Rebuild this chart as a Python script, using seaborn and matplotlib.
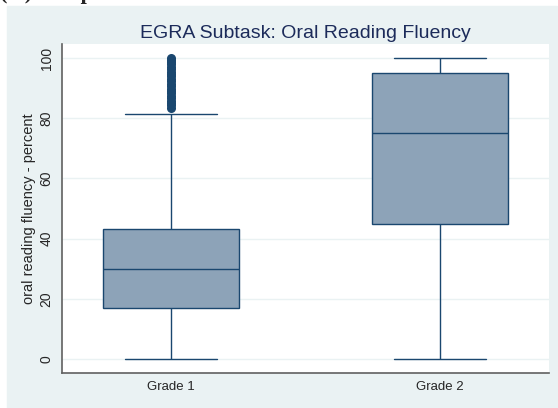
import matplotlib
matplotlib.use("Agg")
import matplotlib.pyplot as plt
import pandas as pd
import seaborn as sns

# box summary: min/whisker, q1, median, q3, max/whisker
grades = ["Grade 1", "Grade 2"]
grade1_box = [0, 17, 30, 43.2, 81.5]
grade2_box = [0, 45, 75, 95, 100]
grade1_outliers = [83.5, 84.3, 85.1, 85.9, 86.7, 87.5, 88.3, 89.1, 89.9, 90.7, 91.5,
                   92.3, 93.1, 93.9, 94.7, 95.5, 96.3, 97.1, 97.9, 98.7, 99.4, 100]
yticks = [0, 20, 40, 60, 80, 100]

navy = "#1a476f"
boxfill = "#8da3b8"
bg = "#eaf2f3"

df = pd.DataFrame({
    "grade": [grades[0]] * len(grade1_box) + [grades[1]] * len(grade2_box),
    "value": grade1_box + grade2_box,
})
out = pd.DataFrame({"grade": [grades[0]] * len(grade1_outliers), "value": grade1_outliers})

sns.set_style("white")
plt.rcParams["font.family"] = ["Liberation Sans", "DejaVu Sans"]

fig = plt.figure(figsize=(5.58, 4.08), dpi=100)
fig.patch.set_facecolor("white")
fig.add_artist(plt.Rectangle((7 / 558, 0), 550 / 558, 1 - 6 / 408,
                             transform=fig.transFigure, color=bg, zorder=-5))
# caption above the chart, cropped in the original
fig.text(0.0, 1 + 0.5 / 408, "(vi) Box plot", family="Liberation Serif",
         fontweight="bold", fontsize=16, va="baseline", ha="left")

ax = fig.add_axes([62 / 558, 1 - 373 / 408, 487 / 558, 329 / 408])
ax.set_facecolor("white")

sns.boxplot(data=df, x="grade", y="value", order=grades, whis=(0, 100),
            width=0.505, color=boxfill, saturation=1, linecolor=navy,
            linewidth=1, capwidths=0.34, ax=ax)
sns.stripplot(data=out, x="grade", y="value", order=grades, jitter=False,
              color=navy, size=6.5, linewidth=0, ax=ax, zorder=3)

ax.set_xlim(-0.405, 1.405)
ax.set_ylim(-4.7, 104.7)
ax.set_yticks(yticks)
ax.set_yticklabels([str(t) for t in yticks], rotation=90, va="center", fontsize=10)
ax.tick_params(axis="y", length=4, width=0.8, color="#555555", pad=2)
ax.tick_params(axis="x", length=0, labelsize=9.5, pad=6)
ax.yaxis.grid(True, color=bg, linewidth=1)
ax.set_axisbelow(True)
for s in ["top", "right"]:
    ax.spines[s].set_visible(False)
for s in ["left", "bottom"]:
    ax.spines[s].set_color("#606060")
    ax.spines[s].set_linewidth(1.2)
ax.set_xlabel("")
ax.set_ylabel("oral reading fluency - percent", fontsize=10.5, labelpad=3)
ax.set_title("EGRA Subtask: Oral Reading Fluency", color="#1c2b5a", fontsize=14, pad=4)

fig.savefig("out.png", dpi=100)
